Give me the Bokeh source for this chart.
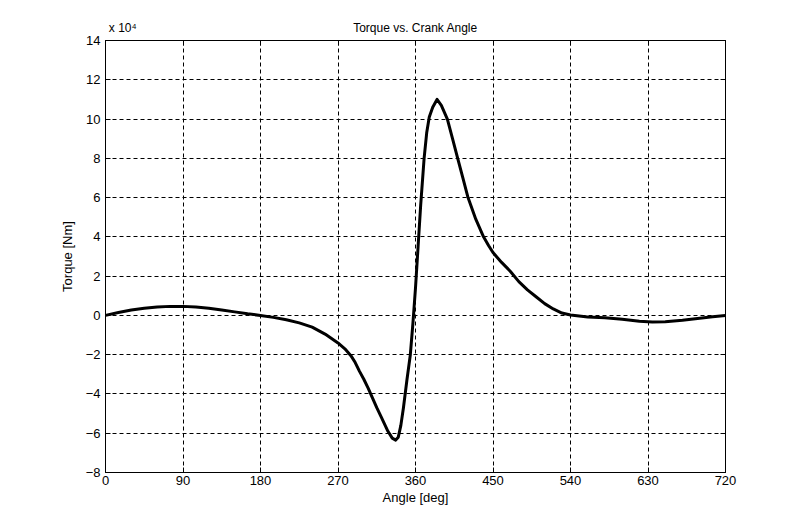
from bokeh.plotting import figure
from bokeh.models import FixedTicker, LinearAxis, Range1d, CustomJSTickFormatter
from bokeh.embed import file_html
from bokeh.resources import INLINE

# Crank angle [deg] and torque [x 1e4 Nm]
angle = [0, 15, 30, 45, 60, 75, 90, 105, 120, 135, 150, 165, 180, 195, 210, 225,
         240, 255, 270, 278, 285, 290, 295, 300, 305, 310, 315, 320, 328, 333,
         337, 340, 343, 346, 350, 354, 357, 360, 363, 366, 370, 373, 376, 380,
         385, 390, 397, 403, 409, 415, 421, 430, 439, 445, 450, 460, 470, 480,
         490, 500, 510, 520, 530, 540, 560, 580, 600, 620, 635, 650, 670, 690,
         705, 720]
torque = [0.0, 0.15, 0.28, 0.37, 0.43, 0.46, 0.46, 0.43, 0.37, 0.28, 0.18, 0.08,
          0.0, -0.1, -0.22, -0.38, -0.6, -0.95, -1.4, -1.7, -2.05, -2.4, -2.85,
          -3.25, -3.7, -4.2, -4.7, -5.15, -5.9, -6.25, -6.35, -6.2, -5.6, -4.7,
          -3.3, -2.0, -0.4, 1.4, 3.5, 5.6, 8.0, 9.3, 10.1, 10.6, 11.0, 10.7, 10.0,
          9.0, 8.0, 7.0, 6.0, 4.9, 4.0, 3.55, 3.2, 2.7, 2.25, 1.72, 1.3, 0.95, 0.6,
          0.33, 0.12, 0.02, -0.08, -0.12, -0.2, -0.3, -0.34, -0.32, -0.25, -0.15,
          -0.07, 0.0]

x_ticks = [0, 90, 180, 270, 360, 450, 540, 630, 720]
y_ticks = [-8, -6, -4, -2, 0, 2, 4, 6, 8, 10, 12, 14]

title_text = "Torque vs. Crank Angle"
scale_text = "x 10\u2074"

FONT = "Liberation Sans"

p = figure(width=800, height=530, output_backend="svg", toolbar_location=None,
           x_range=Range1d(0, 720), y_range=Range1d(-8, 14),
           min_border_left=105, min_border_right=75, min_border_top=40,
           min_border_bottom=58, background_fill_color="white",
           border_fill_color="white")
p.title = None

p.line(angle, torque, line_color="black", line_width=3, line_join="round")

for ax in (p.xaxis[0], p.yaxis[0]):
    ax.major_tick_in = 5
    ax.major_tick_out = 0
    ax.minor_tick_in = 0
    ax.minor_tick_out = 0
    ax.axis_line_color = "black"
    ax.major_tick_line_color = "black"
    ax.major_label_text_font = FONT
    ax.major_label_text_font_size = "13px"
    ax.major_label_text_color = "black"
    ax.axis_label_text_font = FONT
    ax.axis_label_text_font_size = "13px"
    ax.axis_label_text_font_style = "normal"
    ax.axis_label_text_color = "black"

p.xaxis[0].ticker = FixedTicker(ticks=x_ticks)
p.yaxis[0].ticker = FixedTicker(ticks=y_ticks)
p.xaxis[0].axis_label = "Angle [deg]"
p.yaxis[0].axis_label = "Torque [Nm]"
p.xaxis[0].major_label_standoff = 3
p.yaxis[0].major_label_standoff = 5
p.xaxis[0].axis_label_standoff = 2
p.yaxis[0].axis_label_standoff = 8

blank = CustomJSTickFormatter(code="return ''")
right = LinearAxis(ticker=FixedTicker(ticks=y_ticks), major_tick_in=5,
                   major_tick_out=0, minor_tick_in=0, minor_tick_out=0,
                   formatter=blank, axis_line_color="black")
top = LinearAxis(ticker=FixedTicker(ticks=x_ticks), major_tick_in=5,
                 major_tick_out=0, minor_tick_in=0, minor_tick_out=0,
                 formatter=blank, axis_line_color="black")
p.add_layout(right, "right")
p.add_layout(top, "above")

# header texts (title and exponent) drawn as labels of an extra top axis
header = LinearAxis(ticker=FixedTicker(ticks=[20, 360]),
                    major_label_overrides={20: scale_text, 360: title_text},
                    major_tick_in=0, major_tick_out=0, minor_tick_in=0,
                    minor_tick_out=0, axis_line_color=None,
                    major_label_standoff=6,
                    major_label_text_font=FONT, major_label_text_font_size="12px",
                    major_label_text_color="black")
p.add_layout(header, "above")

p.xgrid.ticker = FixedTicker(ticks=x_ticks)
p.ygrid.ticker = FixedTicker(ticks=y_ticks)
for g in (p.xgrid[0], p.ygrid[0]):
    g.grid_line_color = "black"
    g.grid_line_dash = "4 3"
    g.grid_line_width = 1
    g.grid_line_alpha = 1.0

p.outline_line_color = "black"

open("out.html", "w").write(file_html(p, INLINE))
